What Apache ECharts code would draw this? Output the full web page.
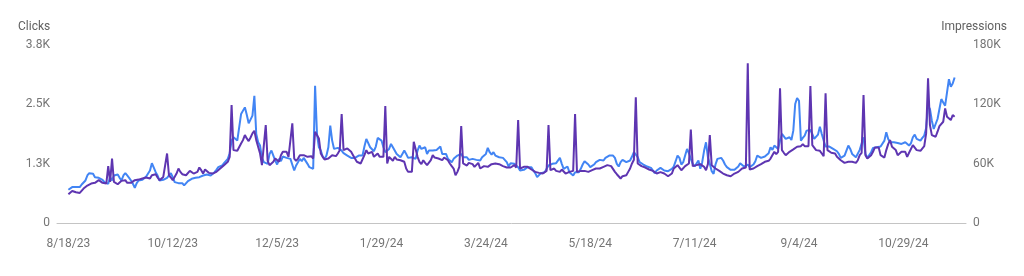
<!DOCTYPE html>
<html>
<head>
<meta charset="utf-8">
<script src="https://cdn.jsdelivr.net/npm/echarts@6/dist/echarts.min.js"></script>
<style>
html,body{margin:0;padding:0;background:#fff;}
#chart{width:1024px;height:276px;}
</style>
</head>
<body>
<div id="chart"></div>
<script>
// Daily data starting 8/18/23 (day index 0)
const tickDays = [0, 55, 110, 165, 220, 275, 330, 385, 440];
const tickLabels = ['8/18/23', '10/12/23', '12/5/23', '1/29/24', '3/24/24', '5/18/24', '7/11/24', '9/4/24', '10/29/24'];
const clicksTickLabels = ['0', '1.3K', '2.5K', '3.8K'];
const impressionsTickLabels = ['0', '60K', '120K', '180K'];

const clicks = [
700, 721, 756, 784, 756, 714, 756, 812, 840, 896,
1001, 1050, 1022, 1036, 966, 1001, 952, 966, 910, 861,
896, 826, 966, 896, 1001, 966, 1022, 952, 896, 1001,
1050, 1001, 952, 896, 826, 742, 840, 896, 861, 910,
952, 980, 1022, 1106, 1260, 1232, 1071, 1001, 896, 861,
910, 896, 952, 1001, 1050, 966, 861, 826, 840, 812,
840, 791, 826, 882, 861, 931, 896, 952, 931, 966,
980, 1001, 966, 1022, 980,
1001, 1036, 1071, 1120, 1176, 1190, 1211, 1260, 1302,
1351, 1470, 1736, 1806, 1771, 1736, 1771, 2296, 2282, 2436, 2282, 2100, 2086, 2261, 2681, 1876,
1701, 1631, 1372, 1281, 1281, 1246, 1456, 1526, 1491, 1316, 1232, 1351, 1302, 1400, 1400, 1372, 1351,
1351, 1316, 1106, 1211, 1246, 1351, 1302, 1372, 1330, 1246, 1176, 1141, 1141,
2891, 1876, 1596, 1526, 1400, 1351, 1421, 1596, 2051, 1736,
1561, 1526, 1582, 1554, 1526, 1470, 1442, 1421, 1386, 1372, 1351, 1372, 1386, 1421,
1386, 1421, 1610, 1771, 1736, 1596, 1561, 1512, 1610, 1792,
1806, 1736, 1596, 1491, 1526, 1561, 1666, 1596, 1631, 1456,
1421, 1386, 1456, 1526, 1456, 1372, 1386, 1386, 1421, 1351,
1526, 1631, 1561, 1526, 1596, 1456, 1526, 1491, 1526, 1561,
1540, 1582, 1610, 1456, 1421, 1456, 1351, 1316, 1281, 1351,
1316, 1421, 1386, 1456, 1386, 1351, 1386, 1330, 1372, 1351,
1386, 1330, 1372, 1316, 1386, 1351, 1456, 1582, 1491, 1442,
1491, 1421, 1456, 1386, 1421, 1372, 1386, 1281, 1190,
1260, 1232, 1246, 1218, 1176, 1106, 1071, 1120, 1141, 1176,
1162, 1176, 1106, 1050, 966, 1001, 1050, 1036, 1071, 1141,
1211, 1232, 1246, 1246, 1260, 1281, 1372, 1246, 1141, 1106,
1190, 1071, 1036, 1001, 1071, 1036, 1071, 1141, 1232, 1302,
1260, 1232, 1176, 1211, 1232, 1281, 1316, 1330, 1351, 1316,
1372, 1386, 1421, 1386, 1421, 1372, 1246, 1190, 1281, 1330,
1351, 1281, 1246, 1316, 1400, 1491, 1526, 1386, 1281, 1246,
1232, 1211, 1190, 1176, 1162, 1141, 1050, 1106, 1141,
1162, 1141, 1106, 1120, 1092, 1071, 1141, 1190, 1302, 1421,
1372, 1232, 1281, 1421, 1561, 1470, 1351, 1246, 1190, 1232,
1316, 1141, 1281, 1526, 1701, 1386, 1246, 1092, 1036, 1232,
1351, 1386, 1372, 1316, 1232, 1176, 1141, 1120, 1106, 1120,
1162, 1190, 1260, 1246, 1190, 1211, 1232, 1176, 1190, 1232,
1302, 1421, 1456, 1372, 1351, 1400, 1386, 1470, 1596, 1540,
1631, 1596, 1561, 1736, 1876, 1841, 1771, 1792, 1806, 1750,
1946, 2506, 2632, 2576, 1736, 1792, 1841, 1946, 1911,
1960, 1876, 1771, 1806, 1862, 2030, 1876, 1736, 1610, 1631,
1610, 1582, 1561, 1582, 1512, 1456, 1372, 1344, 1421, 1526,
1631, 1561, 1456, 1484, 1386, 1421, 1540, 1526, 1806, 1456,
1372, 1330, 1491, 1582, 1610, 1596, 1582, 1610, 1610,
1736, 1911, 1771, 1701, 1736, 1701, 1666, 1687, 1680, 1666,
1694, 1701, 1666, 1631, 1680, 1806, 1862, 1771, 1750, 1736,
1792, 1841, 2002, 2471, 2401, 2156, 1981, 2086, 2191, 2401,
2611, 2541, 2471, 2751, 3031, 2870, 2940, 3066
];

const impressions = [
29100, 30400, 32400, 33100, 31100, 29700, 30400, 32400, 34800, 36500,
37900, 39200, 39900, 39200, 40600, 42600, 43300, 41900, 40600, 39200,
40000, 57500, 41600, 65200, 41600, 40600, 39200, 40600, 42600, 43900,
43300, 40600, 39200, 40600, 42600, 43300, 41600, 43900, 43300, 45000,
43900, 46000, 46600, 45000, 48300, 46600, 49300, 46000, 43300, 42600,
46600, 45000, 70300, 48300, 46000, 43300, 45000, 50000, 55100, 51700,
49300, 48300, 48300, 50000, 52700, 54100, 50000, 48300, 51700, 56100,
53400, 50000, 54100, 55100, 50700,
50000, 50000, 48300, 51700, 53400, 55100, 56100, 58500, 59500,
61900, 66900, 119300, 73700, 73700, 73000, 72000, 80400, 83800, 88900, 85500, 82800, 86500, 90600, 93300, 83800,
82100, 70300, 58500, 57500, 99000, 62900, 58500, 56800, 61900, 65200, 63500, 61900, 68600, 72000, 73700, 72000, 66900,
68600, 100700, 65200, 62900, 65200, 68600, 70300, 68600, 70300, 66900, 65200, 67600, 65200,
92300, 94000, 85500, 70300, 66900, 64200, 62900, 65200, 66900, 68600,
68600, 67600, 70300, 73700, 110200, 73700, 72000, 75400, 77100, 72000, 68600, 65200, 61900, 60200,
60200, 59500, 68600, 73700, 70300, 68600, 72000, 66900, 68600, 70300,
66900, 65200, 66900, 118300, 60200, 66900, 65200, 62900, 66900, 64200,
66200, 63500, 65200, 61900, 55100, 51700, 50700, 51700, 82100, 82100,
66900, 61900, 59500, 63500, 60800, 58500, 59500, 63500, 68600, 66200,
64200, 65200, 66900, 63500, 66200, 65200, 63500, 60200, 57500, 55100,
48300, 51700, 56800, 98000, 60200, 59500, 58100, 60800, 61900, 59500,
56800, 58500, 60800, 55100, 53400, 57500, 58500, 56800, 57500, 59500,
58500, 60200, 60800, 59500, 58100, 57500, 56800, 56100, 54100,
56100, 57500, 58500, 56100, 104100, 55100, 54100, 56800, 56100, 56800,
55100, 54100, 53400, 51700, 50000, 50700, 51700, 50000, 50700, 52700,
99000, 53400, 54100, 55100, 52700, 53400, 51700, 54100, 52700, 50000,
50700, 51700, 53400, 52700, 110200, 51700, 51700, 52700, 53400, 52700,
53400, 51700, 52700, 53400, 54100, 55100, 54100, 55100, 56100, 56800,
57500, 58500, 59500, 57500, 56100, 51700, 49300, 47300, 45000, 47300,
46600, 48300, 51700, 55100, 60200, 64000, 127100, 60200, 58500, 57500,
56800, 56100, 55100, 54100, 53400, 52700, 51700, 50000, 50700,
51400, 50700, 50000, 49300, 47300, 46600, 50000, 55100, 56800, 58500,
59500, 53400, 52700, 57500, 59500, 60200, 94600, 57500, 56800, 58500,
60200, 59500, 58800, 56800, 53400, 59500, 88900, 58500, 56800, 55100,
53400, 52700, 50700, 50000, 50700, 48300, 48300, 47300, 48000, 50000,
50700, 51700, 53400, 55100, 56800, 56100, 161600, 54100, 55100, 55100,
56100, 57500, 58500, 59500, 60800, 61900, 61900, 62900, 65200, 66900,
72000, 69600, 72000, 136200, 73700, 71000, 68600, 70300, 72000, 73700,
74400, 75400, 77100, 78800, 77700, 79800, 77700, 77100, 77700,
138600, 78800, 77100, 73700, 71700, 73000, 70300, 67600, 131100, 73700,
72000, 71000, 71700, 70300, 66900, 66200, 63500, 61900, 60800, 61900,
61900, 60800, 61900, 61900, 60800, 63500, 68600, 71000, 129500, 68600,
65200, 64200, 68600, 72000, 76400, 77100, 76400, 68600, 66900,
66200, 73700, 79800, 83800, 77100, 76400, 73700, 68600, 70300, 72000,
73000, 72000, 66900, 71000, 72000, 78800, 77700, 73700, 72000, 73000,
73700, 77700, 90600, 146300, 99000, 88900, 88900, 87200, 92300, 98000,
96700, 102400, 115900, 107500, 106800, 104100, 109200, 107500
];

const chart = echarts.init(document.getElementById('chart'), null, {renderer: 'canvas'});
const labelStyle = {color: '#757575', fontSize: 12, fontFamily: 'Roboto'};

chart.setOption({
  animation: false,
  backgroundColor: '#ffffff',
  grid: {left: 57, right: 58, top: 45, bottom: 53, containLabel: false},
  graphic: [
    {type: 'text', left: 18, top: 21, style: {text: 'Clicks', fill: '#616161', font: '12px Roboto'}},
    {type: 'text', right: 17, top: 21, style: {text: 'Impressions', fill: '#616161', font: '12px Roboto'}}
  ],
  xAxis: {
    type: 'value',
    min: -6,
    max: 473,
    axisLine: {show: true, lineStyle: {color: '#c4c4c4', width: 1}},
    axisTick: {show: false},
    splitLine: {show: false},
    axisLabel: Object.assign({
      customValues: tickDays,
      margin: 15,
      formatter: function (v) { const k = tickDays.indexOf(v); return k >= 0 ? tickLabels[k] : ''; }
    }, labelStyle)
  },
  yAxis: [
    {
      type: 'value', position: 'left', min: 0, max: 3750, interval: 1250,
      axisLine: {show: false}, axisTick: {show: false}, splitLine: {show: false},
      axisLabel: Object.assign({margin: 7, formatter: function (v) { return clicksTickLabels[Math.round(v / 1250)]; }}, labelStyle)
    },
    {
      type: 'value', position: 'right', min: 0, max: 180000, interval: 60000,
      axisLine: {show: false}, axisTick: {show: false}, splitLine: {show: false},
      axisLabel: Object.assign({margin: 7, formatter: function (v) { return impressionsTickLabels[Math.round(v / 60000)]; }}, labelStyle)
    }
  ],
  series: [
    {
      name: 'Clicks', type: 'line', yAxisIndex: 0, showSymbol: false, symbol: 'none',
      lineStyle: {color: '#4285f4', width: 2}, itemStyle: {color: '#4285f4'},
      data: clicks.map(function (v, i) { return [i, v]; })
    },
    {
      name: 'Impressions', type: 'line', yAxisIndex: 1, showSymbol: false, symbol: 'none',
      lineStyle: {color: '#5e35b1', width: 2}, itemStyle: {color: '#5e35b1'},
      data: impressions.map(function (v, i) { return [i, v]; })
    }
  ]
});
</script>
</body>
</html>
